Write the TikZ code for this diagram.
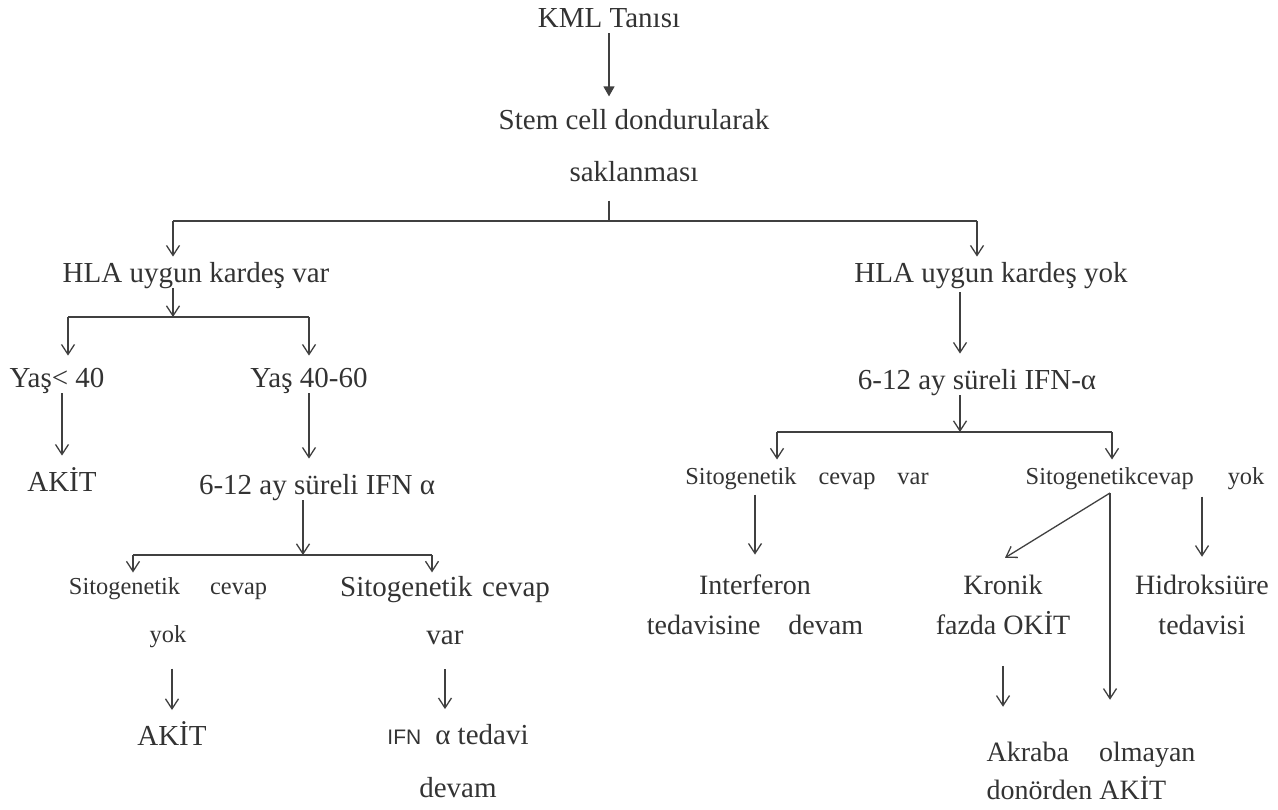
\documentclass[tikz,border=0pt]{standalone}
\usepackage{fontspec}
\setmainfont{Liberation Serif}
\setsansfont{Liberation Sans}
\usetikzlibrary{positioning, arrows.meta, calc}

\begin{document}
\begin{tikzpicture}[
    x=0.5pt, y=-0.5pt,
    txt/.style={font=\fontsize{14.5}{26}\selectfont, text=black!80, align=center,
                inner sep=0pt},
    txts/.style={font=\fontsize{12.2}{24}\selectfont, text=black!80, align=center,
                 inner sep=0pt},
    txtr/.style={font=\fontsize{14}{20}\selectfont, text=black!80, align=center,
                 inner sep=0pt},
    single/.style={text height=10pt, text depth=3pt},
    singles/.style={text height=8.5pt, text depth=2.6pt},
    ln/.style={draw=black!75, line width=0.65pt},
    arr/.style={ln, -{Straight Barb[length=5pt, width=6.5pt]}},
    farr/.style={ln, -{Triangle[length=5pt, width=5.5pt]}},
]
\useasboundingbox (0,0) rectangle (1278,809);

% ===== TOP =====
\node[txt, single] (kml) at (609,20) {KML Tanısı};
\node[txt] (stem) at (634,146) {Stem cell dondurularak\\saklanması};
\node[txt, single] (hlaVar) at (196,275) {HLA uygun kardeş var};
\node[txt, single] (hlaYok) at (991,275) {HLA uygun kardeş yok};

% bus points
\coordinate (b1) at (609,221);
\coordinate (b1l) at (173,221);
\coordinate (b1r) at (977,221);
\coordinate (b2) at (173,317);
\coordinate (b2l) at (68,317);
\coordinate (b2r) at (309,317);
\coordinate (b3) at (303,555);
\coordinate (b3l) at (133,555);
\coordinate (b3r) at (432,555);
\coordinate (b4) at (960,432);
\coordinate (b4l) at (777,432);
\coordinate (b4r) at (1112,432);
\coordinate (fork) at (1110,493);

\draw[farr, shorten >=6.5pt] (kml.south) -- (kml.south |- stem.north);
\draw[ln, shorten <=9pt] (stem.south -| b1) -- (b1);
\draw[ln] (b1l) -- (b1r);
\draw[arr, shorten >=2.5pt] (b1l) -- (b1l |- hlaVar.north);
\draw[arr, shorten >=2.5pt] (b1r) -- (b1r |- hlaYok.north);

% ===== LEFT: HLA uygun kardes var =====
\node[txt, single] (yas1) at (57,380) {Yaş< 40};
\node[txt, single] (yas2) at (309,380) {Yaş 40-60};
\node[txt, single] (akit1) at (62,484) {AKİT};
\node[txt, single] (ifn1) at (317,487) {6-12 ay süreli IFN α};
\node[txts] (sitoYokL) at (168,613) {Sitogenetik\hspace{15pt}cevap\\yok};
\node[txt, font=\fontsize{14.5}{24}\selectfont] (sitoVarL) at (445,611) {Sitogenetik\hspace{5pt}cevap\\var};
\node[txt, single] (akit2) at (172,738) {AKİT};
\node[txt, font=\fontsize{14.5}{26.5}\selectfont] (ifnDevam) at (458,761)
    {{\sffamily\fontsize{10.5}{10.5}\selectfont IFN}\hspace{7pt}α tedavi\\devam};

\draw[arr] (hlaVar.south -| b2) -- (b2);
\draw[ln] (b2l) -- (b2r);
\draw[arr, shorten >=5.5pt] (b2l) -- (b2l |- yas1.north);
\draw[arr, shorten >=5.5pt] (b2r) -- (b2r |- yas2.north);
\draw[arr, shorten >=7.5pt] (yas1.south -| akit1) -- (akit1.north);
\draw[arr, shorten >=7.5pt] (yas2.south) -- (yas2.south |- ifn1.north);
\draw[arr] (ifn1.south -| b3) -- (b3);
\draw[ln] (b3l) -- (b3r);
\draw[arr, shorten >=2.5pt] (b3l) -- (b3l |- sitoYokL.north);
\draw[arr, shorten >=2pt] (b3r) -- (b3r |- sitoVarL.north);
\draw[arr, shorten <=10pt, shorten >=7.3pt] (sitoYokL.south -| akit2) -- (akit2.north);
\draw[arr, shorten <=11.7pt, shorten >=7.4pt] (sitoVarL.south) -- (sitoVarL.south |- ifnDevam.north);

% ===== RIGHT: HLA uygun kardes yok =====
\node[txt, single] (ifn2) at (977,382) {6-12 ay süreli IFN-α};
\node[txts, singles] (sitoVarR) at (807,479) {Sitogenetik\hspace{11pt}cevap\hspace{11pt}var};
\node[txts, singles] (sitoYokR) at (1145,479) {Sitogenetikcevap\hspace{17pt}yok};
\node[txtr] (interferon) at (755,605) {Interferon\\tedavisine\hspace{14pt}devam};
\node[txtr] (kronik) at (1003,605) {Kronik\\fazda OKİT};
\node[txtr] (hidro) at (1202,605) {Hidroksiüre\\tedavisi};
\node[txtr, align=left, font=\fontsize{14}{19}\selectfont] (akraba) at (1091,771)
    {Akraba\hspace{15pt}olmayan\\donörden AKİT};

\draw[arr, shorten <=2pt, shorten >=7.5pt] (hlaYok.south -| b4) -- (b4 |- ifn2.north);
\draw[arr] (ifn2.south -| b4) -- (b4);
\draw[ln] (b4l) -- (b4r);
\draw[arr, shorten >=4pt] (b4l) -- (b4l |- sitoVarR.north);
\draw[arr, shorten >=4pt] (b4r) -- (b4r |- sitoYokR.north);
\draw[arr, shorten <=2pt, shorten >=10pt] (sitoVarR.south -| interferon) -- (interferon.north);
\draw[arr] (fork) -- ([shift={(1pt,8.5pt)}]kronik.north);
\draw[arr, shorten >=21pt] (fork) -- (fork |- akraba.north);
\draw[arr, shorten <=15.3pt, shorten >=17.5pt] (kronik.south) -- (kronik.south |- akraba.north);

\draw[arr, shorten <=3pt, shorten >=9pt] (sitoYokR.south -| hidro) -- (hidro.north);

\end{tikzpicture}
\end{document}
